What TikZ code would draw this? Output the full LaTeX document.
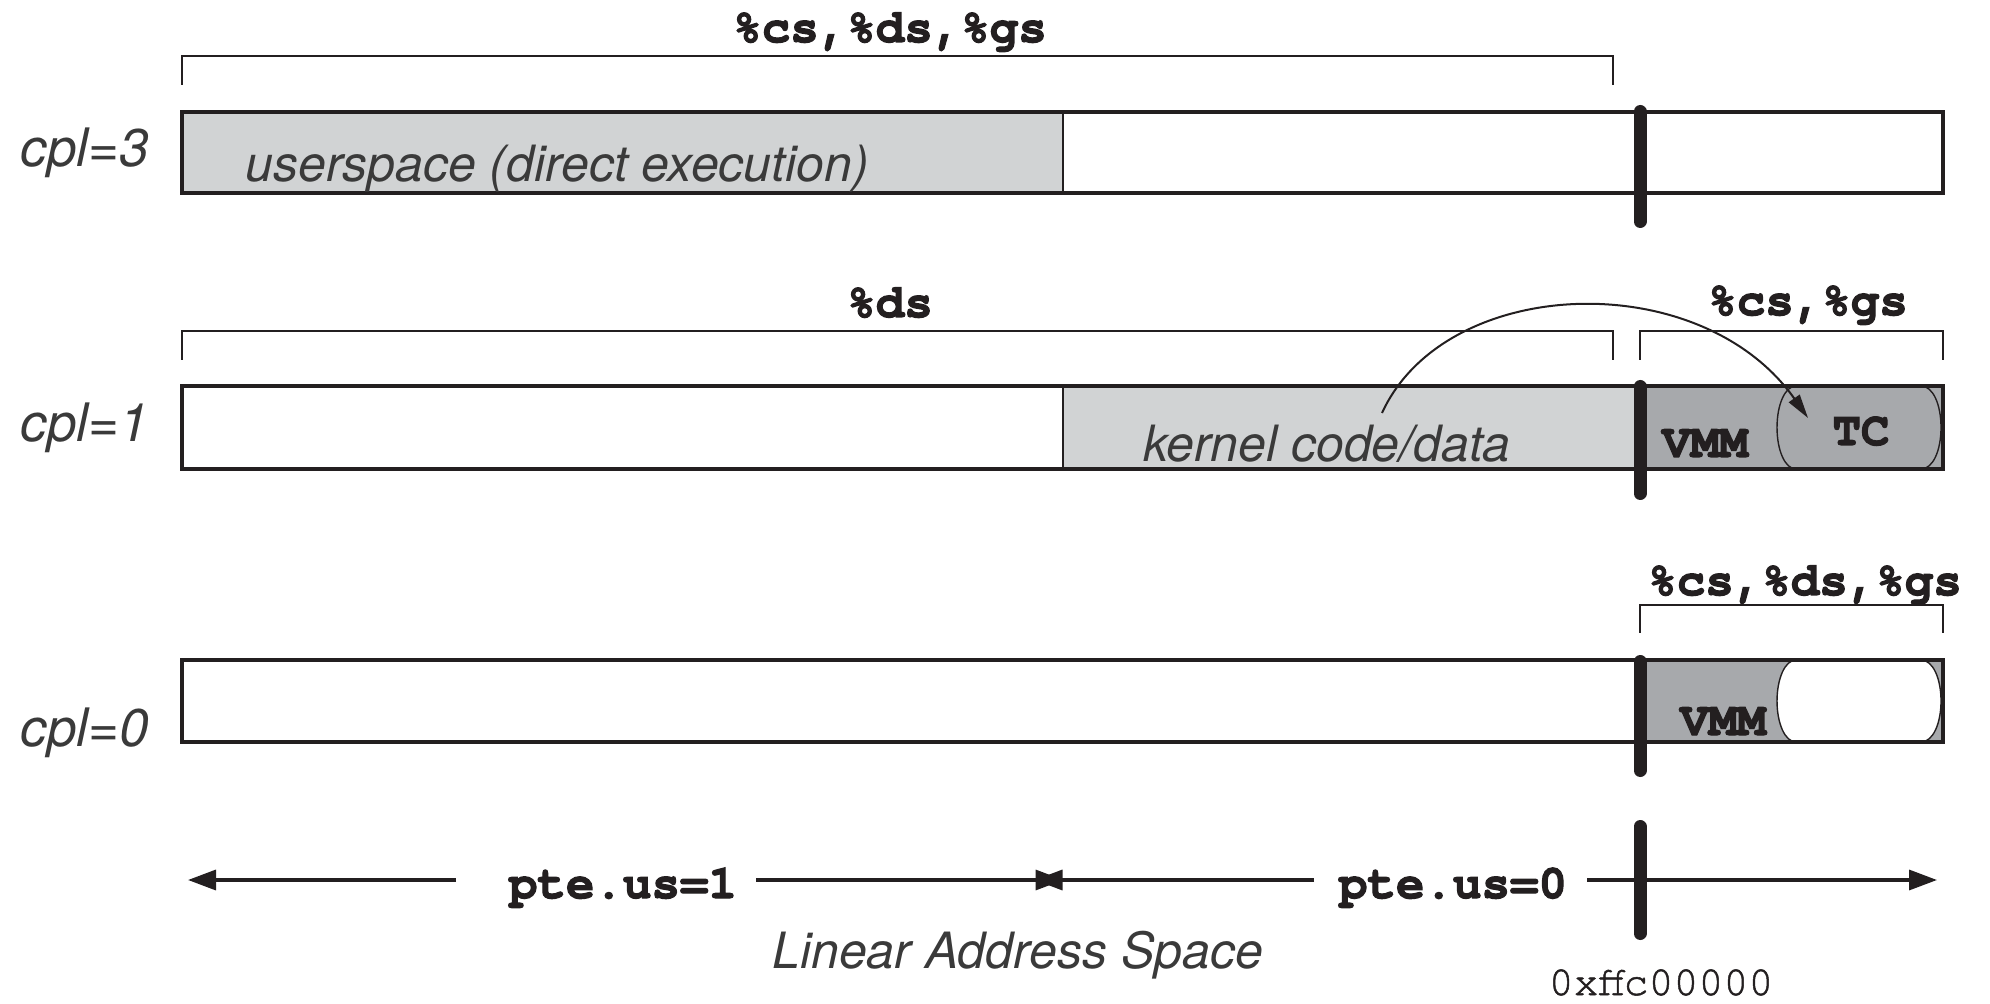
\documentclass[tikz,border=0pt]{standalone}
\usepackage{fontspec}
\setmainfont{TeX Gyre Heros}
\newfontfamily\codefont{TeX Gyre Cursor}[BoldFeatures={FakeBold=2.5}]
\newfontfamily\addrfont{TeX Gyre Cursor}[FakeBold=1.2]
\usetikzlibrary{arrows.meta}

\definecolor{ink}{HTML}{231F20}
\definecolor{lightfill}{HTML}{D1D3D4}
\definecolor{darkfill}{HTML}{A7A9AC}
\definecolor{labelgray}{HTML}{3A3A3A}

\tikzset{
  barline/.style={draw=ink, line width=1.75pt},
  divline/.style={draw=ink, line width=1.4pt},
  bracketline/.style={draw=ink, line width=1.4pt},
  thinline/.style={draw=ink, line width=0.7pt},
  marker/.style={draw=ink, line width=6.5pt, line cap=round},
  axisline/.style={draw=ink, line width=1.7pt, -{Triangle[length=14pt,width=10pt]}},
  itlabel/.style={font=\fontsize{25}{30}\selectfont\itshape, text=labelgray, inner sep=0pt},
  cpllabel/.style={font=\fontsize{26.5}{30}\selectfont\itshape, text=labelgray, inner sep=0pt},
  codelabel/.style={font=\fontsize{23.75}{28}\selectfont\codefont\bfseries, text=ink, inner sep=0pt},
  addrlabel/.style={font=\fontsize{20.8}{25}\selectfont\addrfont, text=ink, inner sep=0pt},
}

\begin{document}
\begin{tikzpicture}[x=0.5pt, y=-0.5pt]
\useasboundingbox (0,0) rectangle (1990,1004);

% ---------- privilege level labels ----------
\node[cpllabel, anchor=base] (cpl3) at (85,167) {cpl=3};
\node[cpllabel, anchor=base] (cpl1) at (85,442) {cpl=1};
\node[cpllabel, anchor=base] (cpl0) at (85,746) {cpl=0};

% ---------- segment brackets ----------
\draw[bracketline] (182,85) -- (182,56) -- (1613,56) -- (1613,85);
\node[codelabel, anchor=base] (seg3) at (890,42) {\%cs,\%ds,\%gs};

\draw[bracketline] (182,360) -- (182,331) -- (1613,331) -- (1613,360);
\node[codelabel, anchor=base] (seg1ds) at (890,317) {\%ds};
\draw[bracketline] (1640,360) -- (1640,331) -- (1943,331) -- (1943,360);
\node[codelabel, anchor=base] (seg1cg) at (1808,315) {\%cs,\%gs};

\draw[bracketline] (1640,633) -- (1640,605) -- (1943,605) -- (1943,633);
\node[codelabel, anchor=base] (seg0) at (1805,595) {\%cs,\%ds,\%gs};

% ---------- cpl=3 bar ----------
\fill[lightfill] (182,112) rectangle (1063,193);
\draw[divline] (1063,112) -- (1063,193);
\draw[barline] (182,112) rectangle (1943,193);
\node[itlabel, anchor=base west] (user) at (245,182) {userspace (direct execution)};
\draw[marker] (1640,111.5) -- (1640,221.5);

% ---------- cpl=1 bar ----------
\fill[lightfill] (1063,386) rectangle (1640,469);
\fill[darkfill] (1640,386) rectangle (1943,469);
\draw[thinline, fill=darkfill] (1796,386) -- (1921,386)
  .. controls (1933,386) and (1941,404.6) .. (1941,427.5)
  .. controls (1941,450.4) and (1933,469) .. (1921,469) -- (1796,469)
  .. controls (1785,469) and (1777,450.4) .. (1777,427.5)
  .. controls (1777,404.6) and (1785,386) .. cycle;
\draw[divline] (1063,386) -- (1063,469);
\draw[barline] (182,386) rectangle (1943,469);
\node[itlabel, anchor=base west] (kernel) at (1143,462) {kernel code/data};
\node[codelabel, anchor=base] (vmm1) at (1705,457) {VMM};
\node[codelabel, anchor=base] (tc) at (1861,445) {TC};
\draw[marker] (1640,386.5) -- (1640,493.5);

% jump from kernel code into the translation cache
\coordinate (kstart) at (1382,413);
\coordinate (tcin) at (1808,418);
\draw[draw=ink, line width=1pt, -{Triangle[length=12pt,width=6.5pt]}]
  (kstart) .. controls (1445,275) and (1700,265) .. (tcin);

% ---------- cpl=0 bar ----------
\fill[darkfill] (1640,660) rectangle (1943,742);
\draw[thinline, fill=white] (1796,660) -- (1921,660)
  .. controls (1933,660) and (1941,678.6) .. (1941,701)
  .. controls (1941,723.4) and (1933,742) .. (1921,742) -- (1796,742)
  .. controls (1785,742) and (1777,723.4) .. (1777,701)
  .. controls (1777,678.6) and (1785,660) .. cycle;
\draw[barline] (182,660) rectangle (1943,742);
\node[codelabel, anchor=base] (vmm0) at (1723,735) {VMM};
\draw[marker] (1640,661.5) -- (1640,770.5);

% ---------- linear address space axis ----------
\coordinate (axL) at (188,880);
\coordinate (g1a) at (456,880);
\coordinate (g1b) at (756,880);
\coordinate (mid1) at (1063.5,880);
\coordinate (mid2) at (1034.5,880);
\coordinate (g2a) at (1314,880);
\coordinate (g2b) at (1587,880);
\coordinate (axR) at (1937,880);
\draw[axisline] (g1a) -- (axL);
\draw[axisline] (g1b) -- (mid1);
\draw[axisline] (g2a) -- (mid2);
\draw[axisline] (g2b) -- (axR);
\node[codelabel, anchor=base] (us1) at (623,898) {pte.us=1};
\node[codelabel, anchor=base] (us0) at (1453,898) {pte.us=0};
\draw[marker] (1640,826.5) -- (1640,933.5);
\node[itlabel, anchor=base west] (las) at (772,968) {Linear Address Space};
\node[addrlabel, anchor=base] (addr) at (1661,995) {0xffc00000};
\end{tikzpicture}
\end{document}
